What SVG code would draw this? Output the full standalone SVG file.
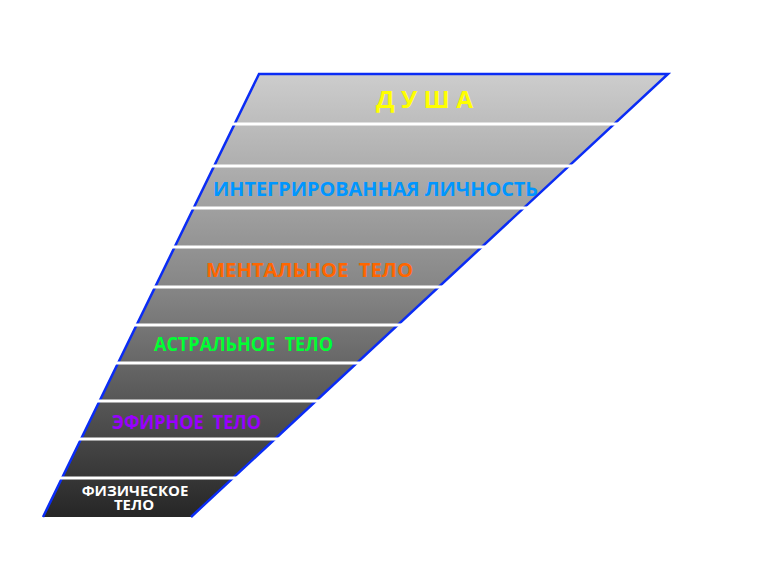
<svg xmlns="http://www.w3.org/2000/svg" width="760" height="561" viewBox="0 0 760 561">
  <defs>
    <linearGradient id="shade" x1="0" y1="74" x2="0" y2="517" gradientUnits="userSpaceOnUse">
      <stop offset="0" stop-color="#cdcdcd"/>
      <stop offset="0.5" stop-color="#838383"/>
      <stop offset="1" stop-color="#262626"/>
    </linearGradient>
  </defs>
  <style>
    .lbl { font-family: "Open Sans", "Liberation Sans", sans-serif; font-weight: bold; white-space: pre; }
    .sep { stroke: #ffffff; stroke-width: 3; }
    .edge { fill: none; stroke: #0a2cf5; stroke-width: 2.5; stroke-linejoin: miter; }
  </style>
  <rect width="760" height="561" fill="#ffffff"/>
  <g id="pyramid">
    <polygon points="259,74 668,74 191,517 43,517" fill="url(#shade)"/>
    <polyline class="edge" points="43,517 259,74 668,74 191,517"/>
  </g>
  <g id="separators">
    <line class="sep" x1="200" y1="124" x2="640" y2="124"/>
    <line class="sep" x1="190" y1="166" x2="600" y2="166"/>
    <line class="sep" x1="170" y1="208" x2="560" y2="208"/>
    <line class="sep" x1="150" y1="247" x2="520" y2="247"/>
    <line class="sep" x1="130" y1="287" x2="480" y2="287"/>
    <line class="sep" x1="110" y1="325" x2="440" y2="325"/>
    <line class="sep" x1="90" y1="363" x2="400" y2="363"/>
    <line class="sep" x1="70" y1="401" x2="360" y2="401"/>
    <line class="sep" x1="50" y1="439" x2="320" y2="439"/>
    <line class="sep" x1="30" y1="478" x2="280" y2="478"/>
  </g>
  <g id="soul">
    <text class="lbl" x="376" y="108" font-size="24" fill="#ffff00" textLength="97" lengthAdjust="spacingAndGlyphs">Д У Ш А</text>
  </g>
  <g id="integrated-personality">
    <text class="lbl" x="213" y="196" font-size="19.5" fill="#0096ff" textLength="325" lengthAdjust="spacingAndGlyphs">ИНТЕГРИРОВАННАЯ ЛИЧНОСТЬ</text>
  </g>
  <g id="mental-body">
    <text class="lbl" x="206" y="277" font-size="20" fill="#ff6600" textLength="207" lengthAdjust="spacingAndGlyphs">МЕНТАЛЬНОЕ  ТЕЛО</text>
  </g>
  <g id="astral-body">
    <text class="lbl" x="154" y="351" font-size="19" fill="#00ff33" textLength="179" lengthAdjust="spacingAndGlyphs">АСТРАЛЬНОЕ  ТЕЛО</text>
  </g>
  <g id="etheric-body">
    <text class="lbl" x="112" y="429" font-size="19" fill="#9900ff" textLength="149" lengthAdjust="spacingAndGlyphs">ЭФИРНОЕ  ТЕЛО</text>
  </g>
  <g id="physical-body">
    <text class="lbl" font-size="15" fill="#ffffff" text-anchor="middle"><tspan x="135" y="495.5">ФИЗИЧЕСКОЕ</tspan><tspan x="134" y="510">ТЕЛО</tspan></text>
  </g>
</svg>
